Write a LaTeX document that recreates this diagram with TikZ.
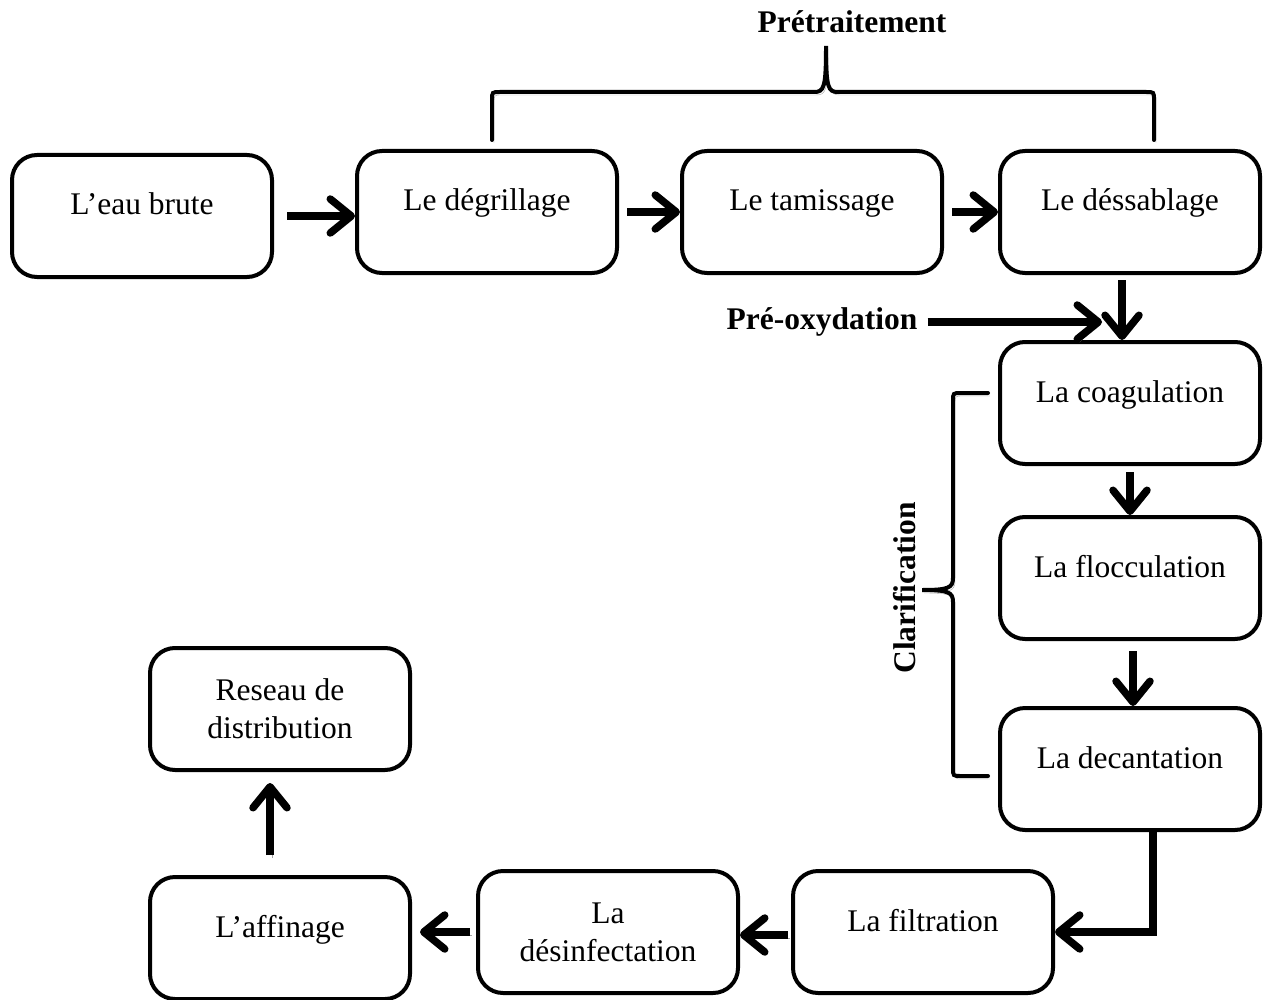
\documentclass[tikz,border=0pt]{standalone}
\usepackage{fontspec}
\setmainfont{Liberation Serif}
\usetikzlibrary{arrows.meta}
\begin{document}
\begin{tikzpicture}[x=1pt,y=-1pt,
  box/.style={draw=black, line width=4pt, rounded corners=25pt, minimum width=260pt, minimum height=122pt, inner sep=0pt, align=center, font=\fontsize{31.5}{38}\selectfont},
  up/.style={text height=20pt, text depth=22pt},
  shad/.style={preaction={draw=black!35, transform canvas={shift={(2pt,-3pt)}}}},
  flow/.style={shad, line width=7.5pt, -{Straight Barb[length=21pt,width=34pt,round]}},
  brace/.style={shad, line width=4pt, line cap=round},
  bold/.style={font=\fontsize{31.5}{38}\selectfont\bfseries, inner sep=2pt}
]
\useasboundingbox (0,0) rectangle (1265,1000);

\node[box,up] (eau)    at (142,216) {L’eau brute};
\node[box,up] (degr)   at (487,212) {Le dégrillage};
\node[box,up] (tam)    at (812,212) {Le tamissage};
\node[box,up] (dess)   at (1130,212) {Le déssablage};
\node[box,up] (coag)   at (1130,403) {La coagulation};
\node[box,up] (floc)   at (1130,578) {La flocculation};
\node[box,up] (dec)    at (1130,769) {La decantation};
\node[box,up] (filt)   at (923,932) {La filtration};
\node[box]    (desinf) at (608,932) {La\\désinfectation};
\node[box,up] (aff)    at (280,938) {L’affinage};
\node[box]    (res)    at (280,709) {Reseau de\\distribution};

\node[bold] (pretr) at (852,22) {Prétraitement};
\node[bold] (preox) at (822,322) {Pré-oxydation};
\node[bold, rotate=90] (clar) at (905,588) {Clarification};
\coordinate (preoxtip) at (1102,322);

% connectors
\draw[flow] ([xshift=13pt]eau.east) -- (degr.west |- eau.east);
\draw[flow] ([xshift=8pt]degr.east) -- (tam.west);
\draw[flow] ([xshift=8pt]tam.east) -- (dess.west);
\draw[flow] ([xshift=-8pt,yshift=-5pt]dess.south) -- ([xshift=-8pt]coag.north);
\draw[flow] ([xshift=8pt]preox.east) -- (preoxtip);
\draw[flow] ([yshift=-6pt]coag.south) -- (floc.north);
\draw[flow] ([xshift=3pt,yshift=-10pt]floc.south) -- ([xshift=3pt]dec.north);
\draw[flow, line cap=butt] ([xshift=23pt]dec.south) |- (filt.east);
\draw[flow] ([xshift=-3pt,yshift=-3pt]filt.west) -- ([yshift=-3pt]desinf.east);
\draw[flow] ([xshift=-6pt]desinf.west) -- ([xshift=8pt]aff.east |- desinf.west);
\draw[flow] ([xshift=-10pt,yshift=20pt]aff.north) -- ([xshift=-10pt,yshift=-11pt]res.south);

% braces
\draw[brace] (492,140) -- (492,100) .. controls (492,92) .. (500,92) -- (814,92)
  .. controls (824,92) and (826,88) .. (826,46)
  .. controls (826,88) and (828,92) .. (838,92) -- (1146,92)
  .. controls (1154,92) .. (1154,100) -- (1154,140);
\draw[brace] (988,393) -- (961,393) .. controls (953,393) .. (953,401) -- (953,578)
  .. controls (953,588) and (948,590) .. (922,590)
  .. controls (948,590) and (953,592) .. (953,602) -- (953,768)
  .. controls (953,776) .. (961,776) -- (988,776);
\end{tikzpicture}
\end{document}
